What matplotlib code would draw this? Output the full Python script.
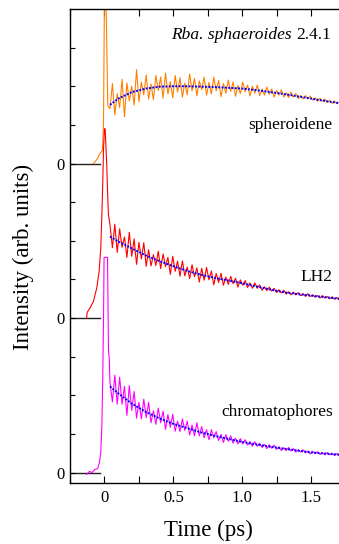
import numpy as np
import matplotlib
matplotlib.use("Agg")
import matplotlib.pyplot as plt

plt.rcParams['font.family'] = ['Liberation Serif', 'DejaVu Serif']

# ---------------- data (relative intensity, tick spacing = 1 unit) ----------------
# rising edge / spike portions
sph_pre_t = [-0.08, -0.056, -0.032, -0.015, -0.007, 0.0, 0.01, 0.024]
sph_pre_v = [0.0, 0.1, 0.26, 0.34, 1.0, 4.5, 4.5, 1.5]

lh2_pre_t = [-0.13, -0.125, -0.105, -0.08, -0.056, -0.039, -0.027, -0.019,
             -0.012, -0.007, 0.0, 0.005, 0.017, 0.024, 0.029]
lh2_pre_v = [0.0, 0.15, 0.26, 0.43, 0.78, 1.2, 1.8, 2.67, 3.54, 4.4, 4.9, 4.9,
             3.9, 3.1, 2.67]

chr_pre_t = [-0.13, -0.11, -0.09, -0.07, -0.05, -0.037, -0.027, -0.019,
             -0.012, -0.006, -0.003, 0.022, 0.029, 0.035]
chr_pre_v = [-0.05, 0.03, 0.0, 0.08, 0.1, 0.25, 0.52, 1.2, 2.58, 4.3, 5.57,
             5.57, 3.18, 2.92]

# oscillating tails, sampled from 0.04 ps to 1.72 ps (97 samples)
tail_t = np.linspace(0.04, 1.72, 97)

sph_tail = [1.42, 2.07, 1.26, 1.81, 1.45, 2.18, 1.21, 2.09, 1.62, 2.00,
            1.51, 2.43, 1.60, 2.11, 1.78, 2.29, 1.67, 2.06, 1.65, 2.28,
            1.89, 2.24, 1.69, 2.34, 1.80, 2.12, 1.70, 2.28, 1.85, 2.22,
            1.72, 2.08, 1.78, 2.32, 1.88, 2.20, 1.75, 2.14, 1.91, 2.24,
            1.77, 2.10, 1.80, 2.24, 1.88, 2.15, 1.73, 2.07, 1.82, 2.16,
            1.87, 2.11, 1.74, 2.02, 1.81, 2.11, 1.86, 2.03, 1.75, 2.00,
            1.82, 2.03, 1.76, 1.93, 1.77, 1.98, 1.79, 1.93, 1.72, 1.89,
            1.77, 1.91, 1.72, 1.83, 1.71, 1.85, 1.72, 1.81, 1.68, 1.76,
            1.67, 1.76, 1.67, 1.74, 1.64, 1.70, 1.61, 1.69, 1.61, 1.67,
            1.58, 1.63, 1.56, 1.62, 1.55, 1.59, 1.53]

lh2_tail = [2.41, 1.82, 2.43, 1.70, 2.31, 1.83, 2.10, 1.57, 2.22, 1.60,
            2.05, 1.39, 1.96, 1.53, 1.95, 1.34, 1.77, 1.35, 1.64, 1.36,
            1.73, 1.28, 1.66, 1.33, 1.57, 1.13, 1.60, 1.21, 1.47, 1.08,
            1.48, 1.09, 1.32, 1.02, 1.38, 1.07, 1.30, 0.93, 1.29, 0.98,
            1.31, 0.99, 1.22, 0.86, 1.15, 0.92, 1.16, 0.85, 1.06, 0.87,
            1.08, 0.89, 1.03, 0.80, 0.99, 0.85, 0.97, 0.79, 0.91, 0.77,
            0.91, 0.77, 0.86, 0.72, 0.81, 0.71, 0.80, 0.70, 0.77, 0.66,
            0.73, 0.65, 0.72, 0.62, 0.68, 0.60, 0.67, 0.60, 0.66, 0.58,
            0.63, 0.56, 0.63, 0.56, 0.60, 0.54, 0.58, 0.52, 0.58, 0.52,
            0.555, 0.50, 0.55, 0.49, 0.53, 0.47, 0.50]

chr_tail = [2.33, 1.83, 2.52, 1.77, 2.47, 1.77, 2.23, 1.48, 2.25, 1.61,
            2.10, 1.41, 1.82, 1.39, 1.90, 1.42, 1.82, 1.29, 1.60, 1.25,
            1.67, 1.29, 1.59, 1.12, 1.50, 1.17, 1.51, 1.07, 1.33, 1.06,
            1.39, 1.09, 1.33, 0.97, 1.23, 0.95, 1.29, 0.95, 1.19, 0.90,
            1.11, 0.85, 1.11, 0.90, 1.06, 0.83, 0.99, 0.78, 0.98, 0.81,
            0.95, 0.76, 0.89, 0.74, 0.88, 0.74, 0.85, 0.71, 0.80, 0.68,
            0.80, 0.68, 0.76, 0.65, 0.73, 0.62, 0.72, 0.63, 0.71, 0.60,
            0.67, 0.57, 0.64, 0.57, 0.65, 0.56, 0.62, 0.53, 0.59, 0.53,
            0.59, 0.51, 0.56, 0.48, 0.55, 0.49, 0.54, 0.47, 0.52, 0.46,
            0.52, 0.46, 0.50, 0.44, 0.49, 0.44, 0.48]

# fitted curves
fit_t = [0.04, 0.1, 0.2, 0.3, 0.4, 0.5, 0.6, 0.7, 0.8, 0.9, 1.0, 1.1,
         1.2, 1.3, 1.4, 1.5, 1.6, 1.725]
sph_fit = [1.52, 1.68, 1.85, 1.94, 1.99, 2.0, 2.0, 1.99, 1.98, 1.96, 1.94,
           1.90, 1.85, 1.80, 1.74, 1.68, 1.62, 1.55]
lh2_fit = [2.11, 1.98, 1.80, 1.62, 1.47, 1.34, 1.22, 1.12, 1.04, 0.97, 0.90,
           0.82, 0.74, 0.67, 0.62, 0.58, 0.54, 0.49]
chr_fit = [2.23, 2.05, 1.78, 1.57, 1.40, 1.26, 1.15, 1.04, 0.95, 0.87, 0.79,
           0.73, 0.67, 0.62, 0.57, 0.52, 0.49, 0.46]

labels = ['spheroidene', 'LH2', 'chromatophores']
offsets = [8, 4, 0]
colors = ['#FF8000', '#FF0000', '#FF00FF']

x_ticks = [-0.25, 0, 0.25, 0.5, 0.75, 1.0, 1.25, 1.5]
x_ticklabels = ['', '0', '', '0.5', '', '1.0', '', '1.5']

# ---------------- figure ----------------
fig = plt.figure(figsize=(3.39, 5.44), dpi=100)
ax = fig.add_axes([70 / 339, 1 - 483 / 544, 1 - 70 / 339 + 0.01, (483 - 9) / 544])

pres = [(sph_pre_t, sph_pre_v), (lh2_pre_t, lh2_pre_v), (chr_pre_t, chr_pre_v)]
tails = [sph_tail, lh2_tail, chr_tail]
fits = [sph_fit, lh2_fit, chr_fit]

for (pt, pv), tail, fit, off, col in zip(pres, tails, fits, offsets, colors):
    t_all = np.concatenate([pt, tail_t])
    v_all = np.concatenate([pv, tail]) + off
    ax.plot([-0.25, -0.036], [off, off], color='#222222', lw=1.0, zorder=1)
    ax.plot(t_all, v_all, color=col, lw=0.8, zorder=2)
    ax.plot(fit_t, np.array(fit) + off, color='#0000FF', lw=1.4,
            linestyle=(0, (1, 0.7)), zorder=3)

ax.set_xlim(-0.24, 1.725)
ax.set_ylim(-0.27, 12)

ax.set_xticks(x_ticks)
ax.set_xticklabels(x_ticklabels)
ax.set_yticks(range(0, 12))
ax.set_yticklabels(['0' if k in offsets else '' for k in range(0, 12)])
ax.tick_params(axis='x', direction='in', length=5, width=0.8, top=True,
               labelsize=12, pad=5)
ax.tick_params(axis='y', direction='in', length=3.5, width=0.8,
               labelsize=12, pad=4)
ax.spines['right'].set_visible(False)
for s in ['left', 'top', 'bottom']:
    ax.spines[s].set_linewidth(1.0)

t_strain = ax.text(1.642, 11.32, '2.4.1', ha='right', va='center', fontsize=12.5)
ax.annotate('Rba. sphaeroides', xy=(0, 0.5), xycoords=t_strain,
            xytext=(-3, 0), textcoords='offset points',
            ha='right', va='center', fontsize=12.5, fontstyle='italic')
for name, off, yv in zip(labels, offsets, [8.99, 5.06, 1.58]):
    ax.text(1.656, yv, name, ha='right', va='center', fontsize=12.5)

ax.set_xlabel('Time (ps)', fontsize=16.5, va='center')
ax.xaxis.set_label_coords(0.509, -0.099)
ax.set_ylabel('Intensity (arb. units)', fontsize=16.5, va='center')
ax.yaxis.set_label_coords(-0.1725, 0.477)

fig.savefig('out.png', dpi=100)
